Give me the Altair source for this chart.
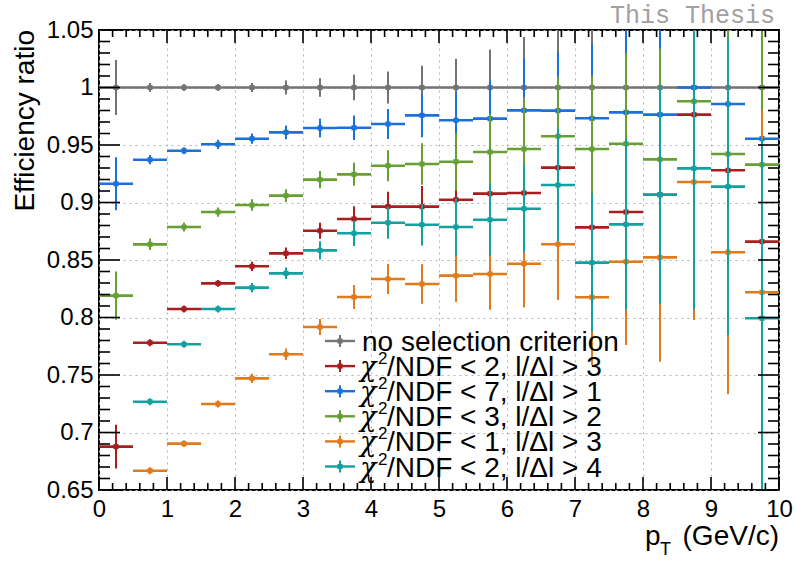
import altair as alt
import pandas as pd

# ---- binning (pT in GeV/c) ----
pt_centre = [0.25, 0.75, 1.25, 1.75, 2.25, 2.75, 3.25, 3.75, 4.25, 4.75,
             5.25, 5.75, 6.25, 6.75, 7.25, 7.75, 8.25, 8.75, 9.25, 9.75]
pt_half = 0.25

# ---- efficiency ratios and their errors, one array per selection ----
ratio_none = [1.0, 1.0, 1.0, 1.0, 1.0, 1.0, 1.0, 1.0, 1.0, 1.0,
              1.0, 1.0, 1.0, 1.0, 1.0, 1.0, 1.0, 1.0, 1.0, 1.0]
err_none = [0.024, 0.004, 0.003, 0.003, 0.004, 0.006, 0.008, 0.011, 0.014, 0.019,
            0.025, 0.033, 0.044, 0.058, 0.075, 0.09, 0.11, 0.13, 0.15, 0.2]

ratio_c2_l3 = [0.6877, 0.7781, 0.8074, 0.8297, 0.8445, 0.8558, 0.8755, 0.8857, 0.8964, 0.8964,
               0.9024, 0.9077, 0.9083, 0.9303, 0.8784, 0.8917, 0.9068, 0.9764, 0.928, 0.866]
err_c2_l3 = [0.019, 0.003, 0.003, 0.003, 0.004, 0.005, 0.007, 0.011, 0.013, 0.018,
             0.024, 0.031, 0.04, 0.05, 0.06, 0.074, 0.094, 0.12, 0.125, 0.155]

ratio_c7_l1 = [0.9163, 0.9372, 0.945, 0.9506, 0.9555, 0.961, 0.9648, 0.965, 0.9683, 0.9758,
               0.9715, 0.9729, 0.9801, 0.9799, 0.9732, 0.9784, 0.9764, 1.0, 0.9857, 0.9555]
err_c7_l1 = [0.023, 0.004, 0.003, 0.004, 0.0045, 0.006, 0.008, 0.0106, 0.013, 0.019,
             0.025, 0.033, 0.045, 0.051, 0.065, 0.08, 0.1, 0.14, 0.16, 0.2]

ratio_c3_l2 = [0.819, 0.8636, 0.8787, 0.8917, 0.8978, 0.906, 0.9199, 0.9245, 0.932, 0.9335,
               0.9355, 0.9439, 0.9465, 0.9576, 0.9465, 0.9511, 0.9375, 0.988, 0.9422, 0.9329]
err_c3_l2 = [0.021, 0.005, 0.004, 0.004, 0.005, 0.0055, 0.0075, 0.010, 0.0135, 0.018,
             0.025, 0.033, 0.045, 0.052, 0.064, 0.079, 0.0965, 0.12, 0.13, 0.16]

ratio_c1_l3 = [None, 0.6668, 0.6903, 0.7248, 0.7471, 0.768, 0.7917, 0.8178, 0.8335, 0.8291,
               0.8364, 0.8378, 0.8468, 0.8637, 0.8176, 0.8485, 0.8523, 0.9178, 0.8567, 0.8219]
err_c1_l3 = [None, 0.003, 0.003, 0.003, 0.004, 0.005, 0.007, 0.0105, 0.013, 0.0172,
             0.023, 0.031, 0.038, 0.0485, 0.059, 0.0725, 0.0907, 0.12, 0.1235, 0.1585]

ratio_c2_l4 = [None, 0.7268, 0.7767, 0.8074, 0.826, 0.8384, 0.8584, 0.8732, 0.8824, 0.8807,
               0.8787, 0.885, 0.8946, 0.9152, 0.8477, 0.881, 0.9068, 0.9297, 0.9138, 0.7993]
err_c2_l4 = [None, 0.003, 0.003, 0.003, 0.004, 0.005, 0.008, 0.011, 0.014, 0.018,
             0.025, 0.031, 0.038, 0.049, 0.06, 0.0745, 0.095, 0.123, 0.129, 0.156]

series_ratio = [ratio_none, ratio_c2_l3, ratio_c7_l1, ratio_c3_l2, ratio_c1_l3, ratio_c2_l4]
series_err = [err_none, err_c2_l3, err_c7_l1, err_c3_l2, err_c1_l3, err_c2_l4]
series_color = ["#747474", "#a81e1e", "#1b71dc", "#66a035", "#e07b1c", "#13a0a0"]
legend_rest = ["no selection criterion",
               "/NDF < 2, l/\u0394l > 3",
               "/NDF < 7, l/\u0394l > 1",
               "/NDF < 3, l/\u0394l > 2",
               "/NDF < 1, l/\u0394l > 3",
               "/NDF < 2, l/\u0394l > 4"]

# ---- axis ticks ----
x_major = [0, 1, 2, 3, 4, 5, 6, 7, 8, 9, 10]
y_major = [0.65, 0.7, 0.75, 0.8, 0.85, 0.9, 0.95, 1.0, 1.05]
x_minor = [round(i * 0.2, 2) for i in range(51) if i % 5]
y_minor = [round(0.65 + i * 0.01, 3) for i in range(41) if i % 5]

W, H = 680, 460
FONT = "Liberation Sans"

xs = alt.Scale(domain=[0, 10], nice=False, zero=False)
ys = alt.Scale(domain=[0.65, 1.05], nice=False, zero=False)
grid_style = dict(grid=True, gridColor="#b4b4b4", gridDash=[2, 4], gridWidth=1.1,
                  ticks=False, domain=False, title=None, labelFont=FONT,
                  labelFontSize=24, labelColor="black", labelOverlap=False)
ax_x = alt.Axis(values=x_major, format="d", labelPadding=7, labelFlush=False, **grid_style)
ax_y = alt.Axis(values=y_major, format="~g", labelPadding=6, **grid_style)

layers = []

# error bars and markers, drawn series by series
for ratio, err, col in zip(series_ratio, series_err, series_color):
    rows = []
    for c, v, e in zip(pt_centre, ratio, err):
        if v is None:
            continue
        rows.append({"pt": c, "lo": c - pt_half, "hi": c + pt_half,
                     "y": v, "ylo": v - e, "yhi": v + e})
    d = pd.DataFrame(rows)
    base = alt.Chart(d)
    layers.append(base.mark_rule(strokeWidth=2, clip=True).encode(
        x=alt.X("pt:Q", scale=xs, axis=ax_x),
        y=alt.Y("ylo:Q", scale=ys, axis=ax_y), y2="yhi:Q",
        color=alt.value(col)))
    layers.append(base.mark_rule(strokeWidth=2.6, clip=True).encode(
        x=alt.X("lo:Q", scale=xs, axis=ax_x), x2="hi:Q",
        y=alt.Y("y:Q", scale=ys, axis=ax_y),
        color=alt.value(col)))
    layers.append(base.mark_square(size=26, opacity=1, clip=True).encode(
        x=alt.X("pt:Q", scale=xs, axis=ax_x),
        y=alt.Y("y:Q", scale=ys, axis=ax_y),
        color=alt.value(col)))

# inward ticks on all four sides of the frame
def x_ticks(vals, length):
    d = pd.DataFrame({"v": vals})
    enc = dict(x=alt.X("v:Q", scale=xs, axis=ax_x), color=alt.value("black"))
    return [alt.Chart(d).mark_rule(strokeWidth=1.6).encode(y=alt.value(H), y2=alt.value(H - length), **enc),
            alt.Chart(d).mark_rule(strokeWidth=1.6).encode(y=alt.value(0), y2=alt.value(length), **enc)]

def y_ticks(vals, length):
    d = pd.DataFrame({"v": vals})
    enc = dict(y=alt.Y("v:Q", scale=ys, axis=ax_y), color=alt.value("black"))
    return [alt.Chart(d).mark_rule(strokeWidth=1.6).encode(x=alt.value(0), x2=alt.value(length), **enc),
            alt.Chart(d).mark_rule(strokeWidth=1.6).encode(x=alt.value(W), x2=alt.value(W - length), **enc)]

layers += x_ticks(x_major, 13) + x_ticks(x_minor, 7)
layers += y_ticks(y_major, 21) + y_ticks(y_minor, 11)

# legend
leg = pd.DataFrame({"row": list(range(6)), "rest": legend_rest, "col": series_color})
leg["yp"] = 311 + 25.1 * leg["row"]
leg["yt"] = leg["yp"] - 6
leg["yb"] = leg["yp"] + 6
cscale = alt.Scale(domain=series_color, range=series_color)
lbase = alt.Chart(leg)
layers.append(lbase.mark_rule(strokeWidth=2.4).encode(
    x=alt.value(226), x2=alt.value(256), y=alt.Y("yp:Q", scale=None),
    color=alt.Color("col:N", scale=cscale, legend=None)))
layers.append(lbase.mark_rule(strokeWidth=2).encode(
    x=alt.value(241), y=alt.Y("yt:Q", scale=None), y2="yb:Q",
    color=alt.Color("col:N", scale=cscale, legend=None)))
layers.append(lbase.mark_square(size=26, opacity=1).encode(
    x=alt.value(241), y=alt.Y("yp:Q", scale=None),
    color=alt.Color("col:N", scale=cscale, legend=None)))

first = leg[leg["row"] == 0]
cuts = leg[leg["row"] > 0]
layers.append(alt.Chart(first).mark_text(
    align="left", baseline="alphabetic", font=FONT, fontSize=28, color="black", dy=10).encode(
    x=alt.value(263), y=alt.Y("yp:Q", scale=None), text="rest:N"))
layers.append(alt.Chart(cuts).mark_text(
    align="left", baseline="alphabetic", font=FONT, fontSize=28, color="black", dy=10).encode(
    x=alt.value(288), y=alt.Y("yp:Q", scale=None), text="rest:N"))
layers.append(alt.Chart(cuts).mark_text(
    align="left", baseline="alphabetic", font="DejaVu Serif", fontStyle="italic",
    fontSize=27, color="black", dy=10).encode(
    x=alt.value(261), y=alt.Y("yp:Q", scale=None), text=alt.value("\u03c7")))
layers.append(alt.Chart(cuts).mark_text(
    align="left", baseline="alphabetic", font=FONT, fontSize=17, color="black", dy=-2).encode(
    x=alt.value(279), y=alt.Y("yp:Q", scale=None), text=alt.value("2")))

# axis titles and label
one = pd.DataFrame({"k": [0]})
layers.append(alt.Chart(one).mark_text(
    align="right", baseline="alphabetic", angle=270, font=FONT, fontSize=28, color="black").encode(
    x=alt.value(-65), y=alt.value(0), text=alt.value("Efficiency ratio")))
layers.append(alt.Chart(one).mark_text(
    align="right", baseline="alphabetic", font=FONT, fontSize=28, color="black").encode(
    x=alt.value(W), y=alt.value(515), text=alt.value("(GeV/c)")))
layers.append(alt.Chart(one).mark_text(
    align="left", baseline="alphabetic", font=FONT, fontSize=28, color="black").encode(
    x=alt.value(546), y=alt.value(515), text=alt.value("p")))
layers.append(alt.Chart(one).mark_text(
    align="left", baseline="alphabetic", font=FONT, fontSize=18, color="black").encode(
    x=alt.value(561), y=alt.value(525), text=alt.value("T")))
layers.append(alt.Chart(one).mark_text(
    align="right", baseline="alphabetic", font="Liberation Mono", fontSize=25, color="#a0a0a0").encode(
    x=alt.value(676), y=alt.value(-7), text=alt.value("This Thesis")))

chart = alt.layer(*layers).properties(
    width=W, height=H,
    autosize=alt.AutoSizeParams(type="none"),
    padding={"left": 99, "top": 30, "right": 16, "bottom": 71},
).configure_view(stroke="black", strokeWidth=2)

chart.save("out.html", embed_options={"renderer": "svg", "actions": False})
